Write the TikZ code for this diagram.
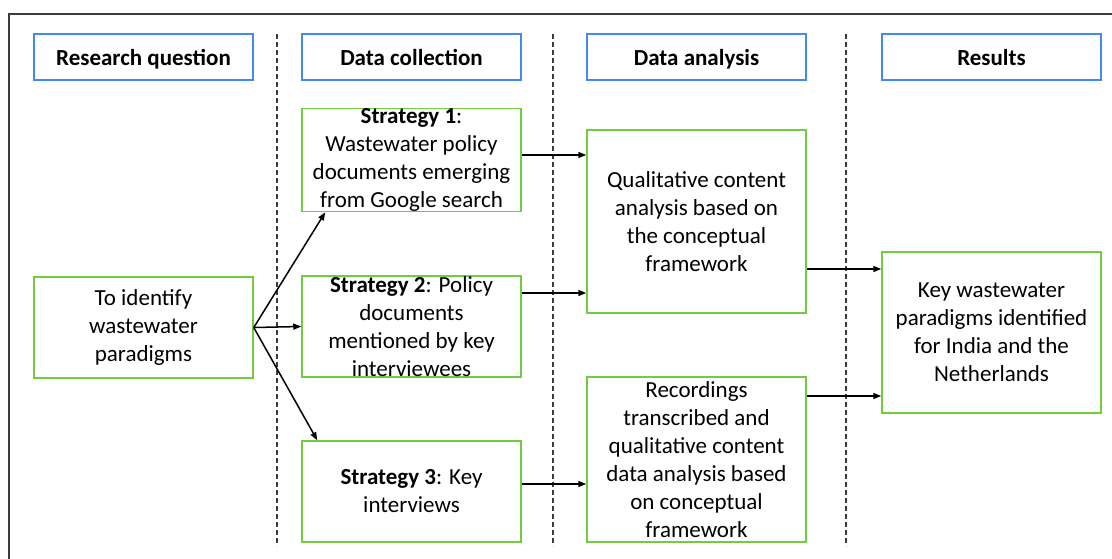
\documentclass[tikz,border=0pt]{standalone}
\usepackage{fontspec}
\setmainfont{Carlito}
\usetikzlibrary{arrows.meta}
\definecolor{hdrblue}{RGB}{66,139,235}
\definecolor{boxgreen}{RGB}{112,204,64}
\definecolor{framegray}{RGB}{60,60,60}

\begin{document}
\begin{tikzpicture}[x=1pt,y=-1pt,
  header/.style={draw=hdrblue,line width=1.5pt,minimum width=219pt,minimum height=46pt,inner sep=0pt,text height=19pt,text depth=3pt,font=\fontsize{23}{28}\selectfont\bfseries},
  stage/.style={draw=boxgreen,line width=1.5pt,minimum width=219pt,inner sep=0pt,align=center,font=\fontsize{23}{28}\selectfont},
  link/.style={line width=1.5pt,-{Triangle[length=8pt,width=6pt]}},
  divider/.style={draw=framegray,line width=1.3pt,dash pattern=on 5pt off 3pt}]
\useasboundingbox (0,0) rectangle (1112,558);
\draw[framegray,line width=2.2pt] (9,14) rectangle (1140,590);
% column dividers
\foreach \xd in {277,553,846}
  \draw[divider] (\xd,34) -- (\xd,546);
% headers
\node[header] (hrq) at (143.5,57) {Research question};
\node[header] (hdc) at (411.5,57) {Data collection};
\node[header] (hda) at (696.5,57) {Data analysis};
\node[header] (hres) at (991.5,57) {Results};
% boxes
\node[stage,minimum height=101pt] (rq) at (143.5,327.5) {To identify\\wastewater\\paradigms};
\node[stage,minimum height=100pt] (s1) at (411.5,160) {\textbf{Strategy 1}:\\Wastewater policy\\documents emerging\\from Google search};
\node[stage,minimum height=101pt] (s2) at (411.5,326.5) {\textbf{Strategy 2}: Policy\\documents\\mentioned by key\\interviewees};
\node[stage,minimum height=101pt] (s3) at (411.5,491.5) {\textbf{Strategy 3}: Key\\interviews};
\node[stage,minimum height=183pt] (da1) at (696.5,221.5) {Qualitative content\\analysis based on\\the conceptual\\framework};
\node[stage,minimum height=165pt] (da2) at (696.5,459.5) {Recordings\\transcribed and\\qualitative content\\data analysis based\\on conceptual\\framework};
\node[stage,minimum height=161pt] (res) at (991.5,332.5) {Key wastewater\\paradigms identified\\for India and the\\Netherlands};
% arrows
\draw[link] (rq.east) -- ([xshift=24pt]s1.south west);
\draw[link] (rq.east) -- (s2.west);
\draw[link] (rq.east) -- ([xshift=16pt]s3.north west);
\draw[link] ([yshift=5pt]s1.east) -- ([yshift=5pt]s1.east -| da1.west);
\draw[link] ([yshift=33.5pt]s2.east) -- ([yshift=33.5pt]s2.east -| da1.west);
\draw[link] ([yshift=7.5pt]s3.east) -- ([yshift=7.5pt]s3.east -| da2.west);
\draw[link] ([yshift=-47.5pt]da1.east) -- ([yshift=-47.5pt]da1.east -| res.west);
\draw[link] ([yshift=63.5pt]da2.east) -- ([yshift=63.5pt]da2.east -| res.west);
\end{tikzpicture}
\end{document}
